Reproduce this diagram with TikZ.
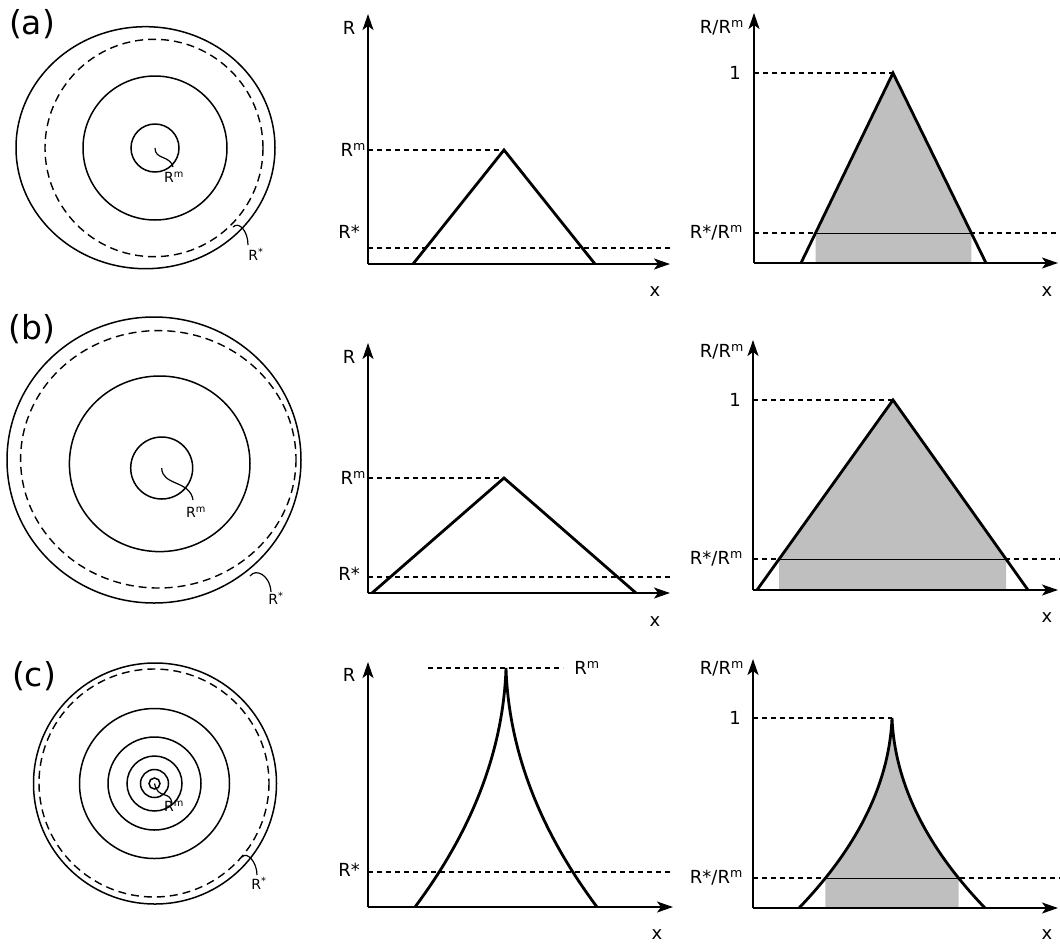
\documentclass[tikz,border=0pt]{standalone}
\usepackage{fontspec}
\setmainfont{DejaVu Sans}
\usepackage{tikz}
\usetikzlibrary{arrows.meta, positioning}

\begin{document}
\begin{tikzpicture}[x=1pt, y=-1pt,
    axisline/.style={line width=1.6pt, -{Stealth[length=16pt, width=11pt, inset=4pt]}},
    curve/.style={line width=2.8pt, line join=miter},
    guide/.style={line width=1.1pt, dash pattern=on 5pt off 4pt},
    cutline/.style={line width=1pt},
    ring/.style={line width=1.5pt},
    ringdash/.style={line width=1.4pt, dash pattern=on 8pt off 5pt},
    leader/.style={line width=1.2pt},
    band/.style={fill=black!25},
    panel/.style={font=\fontsize{33}{38}\selectfont, inner sep=0pt},
    axlabel/.style={font=\fontsize{18}{21}\selectfont, inner sep=1pt},
    ringlabel/.style={font=\fontsize{14}{16}\selectfont, inner sep=0pt}
]
\useasboundingbox (0,0) rectangle (1060,943);

% === ROW (a) ===
\node[panel] (labA) at (32,24) {(a)};

% rings
\coordinate (cA) at (155,148);
\draw[ring] (145.5,147.7) ellipse [x radius=129.5, y radius=121];
\draw[ringdash] (154,148) ellipse [x radius=109, y radius=108.7];
\draw[ring] (cA) circle [radius=72];
\draw[ring] (cA) circle [radius=24];
\draw[leader] (cA) .. controls (155,160) and (170,155) .. (173,167);
\node[ringlabel] (rmA) at (174,177) {R\textsuperscript{m}};
\coordinate (sA) at (233,227);
\coordinate (tA) at (248,245);
\draw[leader] (sA) .. controls (239,221) and (248,231) .. (tA);
\node[ringlabel] (rsA) at (256,254) {R\textsuperscript{*}};

% R versus x
\coordinate (oA) at (368,264);
\coordinate (yA) at (368,14);
\coordinate (xA) at (670,264);
\draw[guide] (oA |- 0,150) -- (504,150);
\draw[guide] (oA |- 0,248) -- (673,248);
\draw[curve] (413,264) -- (504,150) -- (595,264);
\draw[axisline] (oA) -- (yA);
\draw[axisline] (oA) -- (xA);
\node[axlabel] (RA) at (349,28) {R};
\node[axlabel, anchor=east] (RmA) at (367,150) {R\textsuperscript{m}};
\node[axlabel] (RsA) at (349,232) {R*};
\node[axlabel] (xlA) at (655,292) {x};

% R/Rm versus x
\coordinate (pA) at (754,263);
\coordinate (qA) at (754,13);
\coordinate (wA) at (1058,263);
\draw[guide] (pA |- 0,73) -- (893,73);
\draw[guide] (pA |- 0,233) -- (1060,233);
\begin{scope}
  \clip (815.5,60) rectangle (971.3,263);
  \fill[band] (801,263) -- (893,73) -- (986,263) -- cycle;
\end{scope}
\draw[cutline] (815.5,233) -- (971.3,233);
\draw[curve] (801,263) -- (893,73) -- (986,263);
\draw[axisline] (pA) -- (qA);
\draw[axisline] (pA) -- (wA);
\node[axlabel, anchor=east] (RRA) at (745,28) {R/R\textsuperscript{m}};
\node[axlabel] (oneA) at (735,73) {1};
\node[axlabel, anchor=east] (RsRA) at (744,233) {R*/R\textsuperscript{m}};
\node[axlabel] (xrA) at (1047,292) {x};

% === ROW (b) ===
\node[panel] (labB) at (32,329) {(b)};

% rings
\coordinate (cB) at (161.7,468);
\draw[ring] (154,460) ellipse [x radius=147, y radius=143];
\draw[ringdash] (158.3,459.3) ellipse [x radius=137.7, y radius=128.7];
\draw[ring] (159.7,463.8) ellipse [x radius=90.3, y radius=87.8];
\draw[ring] (cB) circle [radius=31];
\draw[leader] (cB) .. controls (162,486) and (190,480) .. (193,500);
\node[ringlabel] (rmB) at (196,512) {R\textsuperscript{m}};
\coordinate (sB) at (250,576);
\coordinate (tB) at (271,592);
\draw[leader] (sB) .. controls (256,568) and (270,575) .. (tB);
\node[ringlabel] (rsB) at (276,598) {R\textsuperscript{*}};

% R versus x
\coordinate (oB) at (368,593);
\coordinate (yB) at (368,343);
\coordinate (xB) at (670,593);
\draw[guide] (oB |- 0,478) -- (504,478);
\draw[guide] (oB |- 0,577) -- (673,577);
\draw[curve] (372,593) -- (504,478) -- (636,593);
\draw[axisline] (oB) -- (yB);
\draw[axisline] (oB) -- (xB);
\node[axlabel] (RB) at (349,357) {R};
\node[axlabel, anchor=east] (RmB) at (367,478) {R\textsuperscript{m}};
\node[axlabel] (RsB) at (349,574) {R*};
\node[axlabel] (xlB) at (655,622) {x};

% R/Rm versus x
\coordinate (pB) at (753,590);
\coordinate (qB) at (753,340);
\coordinate (wB) at (1058,590);
\draw[guide] (pB |- 0,400) -- (893,400);
\draw[guide] (pB |- 0,559) -- (1060,559);
\begin{scope}
  \clip (779.2,390) rectangle (1006,590);
  \fill[band] (757,590) -- (893,400) -- (1028,590) -- cycle;
\end{scope}
\draw[cutline] (779.2,559) -- (1006,559);
\draw[curve] (757,590) -- (893,400) -- (1028,590);
\draw[axisline] (pB) -- (qB);
\draw[axisline] (pB) -- (wB);
\node[axlabel, anchor=east] (RRB) at (745,352) {R/R\textsuperscript{m}};
\node[axlabel] (oneB) at (735,400) {1};
\node[axlabel, anchor=east] (RsRB) at (744,559) {R*/R\textsuperscript{m}};
\node[axlabel] (xrB) at (1047,618) {x};

% === ROW (c) ===
\node[panel] (labC) at (34,676) {(c)};

% rings
\coordinate (cC) at (154.5,783.5);
\draw[ring] (155,783.5) ellipse [x radius=121.5, y radius=120.5];
\draw[ringdash] (154,783) ellipse [x radius=115, y radius=114];
\draw[ring] (cC) circle [radius=75];
\draw[ring] (cC) circle [radius=46.5];
\draw[ring] (cC) circle [radius=27.5];
\draw[ring] (cC) circle [radius=14];
\draw[ring] (cC) circle [radius=5.5];
\draw[leader] (cC) .. controls (158,800) and (170,790) .. (172,803);
\node[ringlabel] (rmC) at (174,806) {R\textsuperscript{m}};
\coordinate (sC) at (242,857);
\coordinate (tC) at (257,875);
\draw[leader] (sC) .. controls (247,851) and (257,862) .. (tC);
\node[ringlabel] (rsC) at (259,883) {R\textsuperscript{*}};

% R versus x
\coordinate (oC) at (368,907);
\coordinate (yC) at (368,662);
\coordinate (xC) at (673,907);
\draw[guide] (428,668) -- (563,668);
\draw[guide] (oC |- 0,872) -- (673,872);
\draw[curve] (415,907) .. controls (465,840) and (503,760) .. (506,668)
             .. controls (509,760) and (547,840) .. (597,907);
\draw[axisline] (oC) -- (yC);
\draw[axisline] (oC) -- (xC);
\node[axlabel] (RC) at (349,675) {R};
\node[axlabel] (RmC) at (587,668) {R\textsuperscript{m}};
\node[axlabel] (RsC) at (349,870) {R*};
\node[axlabel] (xlC) at (657,935) {x};

% R/Rm versus x
\coordinate (pC) at (753,908);
\coordinate (qC) at (753,659);
\coordinate (wC) at (1058,908);
\draw[guide] (pC |- 0,718) -- (892,718);
\draw[guide] (pC |- 0,878) -- (1060,878);
\begin{scope}
  \clip (825.3,700) rectangle (958.7,908);
  \fill[band] (799,908) .. controls (850.1,854.8) and (888.9,791.2) .. (892,718)
              .. controls (895.1,791.2) and (933.9,854.8) .. (985,908) -- cycle;
\end{scope}
\draw[cutline] (825.3,878) -- (958.7,878);
\draw[curve] (799,908) .. controls (850.1,854.8) and (888.9,791.2) .. (892,718)
             .. controls (895.1,791.2) and (933.9,854.8) .. (985,908);
\draw[axisline] (pC) -- (qC);
\draw[axisline] (pC) -- (wC);
\node[axlabel, anchor=east] (RRC) at (745,669) {R/R\textsuperscript{m}};
\node[axlabel] (oneC) at (735,718) {1};
\node[axlabel, anchor=east] (RsRC) at (744,878) {R*/R\textsuperscript{m}};
\node[axlabel] (xrC) at (1047,935) {x};

\end{tikzpicture}
\end{document}
